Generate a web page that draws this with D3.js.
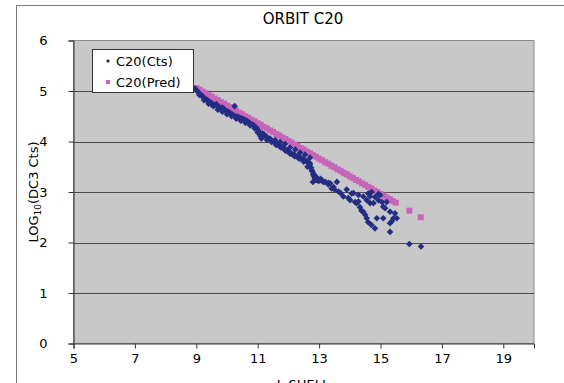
<!DOCTYPE html>
<html>
<head>
<meta charset="utf-8">
<script src="https://cdn.jsdelivr.net/npm/d3@7"></script>
<style>
  html, body { margin: 0; padding: 0; background: #ffffff; }
  svg { display: block; }
  text { font-family: "DejaVu Sans", sans-serif; fill: #000; }
</style>
</head>
<body>
<svg id="chart" width="564" height="383"></svg>
<script>
// Measured counts vs. L-shell, ORBIT C20
const ctsL = [
  8.96, 9.00, 9.05, 9.10, 9.15, 9.20, 9.25, 9.30, 9.35, 9.40, 9.45, 9.50, 9.55, 9.60, 9.65, 9.70,
  9.75, 9.80, 9.85, 9.90, 9.95, 10.00, 10.05, 10.10, 10.15, 10.20, 10.25, 10.30, 10.35, 10.40,
  10.45, 10.50, 10.55, 10.60, 10.65, 10.70, 10.75, 10.80, 10.85, 10.90, 10.95, 11.00, 11.05,
  11.08, 11.10, 11.15, 11.20, 11.25, 11.30, 11.35, 11.40, 11.45, 11.50, 11.55, 11.60, 11.65,
  11.70, 11.75, 11.80, 11.85, 11.90, 11.95, 12.00, 12.05, 12.10, 12.15, 12.20, 12.25, 12.30,
  12.35, 12.40, 12.45, 12.50, 12.55, 12.60, 12.65, 12.70, 12.74, 12.78, 12.82, 12.84, 12.86,
  12.88, 12.92, 12.97, 13.02, 13.10, 13.20, 13.30, 13.36,
  // lower edge of the band
  9.10, 9.25, 9.40, 9.55, 9.70, 9.85, 10.00, 10.15, 10.30, 10.45, 10.60, 10.75, 10.90, 11.00,
  11.12, 11.30, 11.45, 11.60, 11.75, 11.90, 12.05, 12.20, 12.35, 12.50,
  // upper dotted track
  11.19, 11.40, 11.57, 11.73, 11.89, 12.05, 12.22, 12.38, 12.54, 12.70,
  12.76, 12.81, 12.87, 12.98, 13.14, 13.30, 13.47, 13.58, 12.80, 12.90, 13.05, 12.62, 12.70,
  // scattered tail
  13.41, 13.50, 13.63, 13.70, 13.79, 13.90, 13.95, 14.06, 14.01, 14.12, 14.17, 14.22, 14.28,
  14.28, 14.33, 14.38, 14.44, 14.44, 14.50, 14.55, 14.55, 14.60, 14.60, 14.66, 14.66, 14.70,
  14.71, 14.77, 14.82, 14.82, 14.88, 14.93, 14.93, 14.99, 15.05, 15.09, 15.09, 15.15, 15.20,
  15.31, 15.31, 15.37, 15.42, 15.47, 15.53, 15.31, 15.94, 16.32
];
const ctsLog = [
  5.05, 5.02, 4.98, 4.95, 4.92, 4.90, 4.86, 4.84, 4.82, 4.80, 4.78, 4.76, 4.73, 4.72, 4.74, 4.70,
  4.68, 4.66, 4.67, 4.64, 4.62, 4.60, 4.59, 4.56, 4.55, 4.53, 4.70, 4.50, 4.49, 4.47,
  4.46, 4.45, 4.44, 4.42, 4.41, 4.38, 4.36, 4.34, 4.33, 4.30, 4.27, 4.24, 4.19,
  4.13, 4.10, 4.16, 4.14, 4.12, 4.08, 4.06, 4.04, 4.02, 4.00, 3.98, 3.96, 3.94,
  3.92, 3.90, 3.88, 3.86, 3.84, 3.82, 3.80, 3.78, 3.76, 3.74, 3.73, 3.71, 3.70,
  3.69, 3.67, 3.66, 3.64, 3.62, 3.61, 3.59, 3.54, 3.48, 3.41, 3.36, 3.31, 3.28,
  3.26, 3.24, 3.24, 3.23, 3.22, 3.20, 3.18, 3.17,
  4.92, 4.82, 4.75, 4.70, 4.63, 4.59, 4.54, 4.50, 4.45, 4.41, 4.37, 4.32, 4.26, 4.18,
  4.06, 4.03, 3.99, 3.93, 3.88, 3.82, 3.76, 3.71, 3.66, 3.60,
  4.12, 4.06, 4.03, 3.99, 3.95, 3.88, 3.84, 3.78, 3.74, 3.68,
  3.43, 3.34, 3.27, 3.22, 3.20, 3.15, 3.10, 3.20, 3.20, 3.30, 3.26, 3.50, 3.57,
  3.07, 3.05, 3.01, 2.98, 2.91, 3.05, 2.88, 2.97, 2.84, 2.98, 2.80, 2.78, 2.94,
  2.81, 2.70, 2.63, 2.91, 2.61, 2.55, 2.48, 2.84, 2.97, 2.40, 2.91, 2.78, 2.35,
  3.00, 2.78, 2.28, 2.90, 2.48, 2.84, 2.96, 2.94, 2.80, 2.71, 2.48, 2.68, 2.80,
  2.61, 2.38, 2.42, 2.48, 2.58, 2.48, 2.21, 1.97, 1.92
];

// Predicted counts vs. L-shell
const predL = [
  9.0, 9.1, 9.2, 9.3, 9.4, 9.5, 9.6, 9.7, 9.8, 9.9, 10.0, 10.1, 10.2, 10.3, 10.4, 10.5, 10.6,
  10.7, 10.8, 10.9, 11.0, 11.1, 11.2, 11.3, 11.4, 11.5, 11.6, 11.7, 11.8, 11.9, 12.0, 12.1,
  12.2, 12.3, 12.4, 12.5, 12.6, 12.7, 12.8, 12.9, 13.0, 13.1, 13.2, 13.3, 13.4, 13.5, 13.6,
  13.7, 13.8, 13.9, 14.0, 14.1, 14.2, 14.3, 14.4, 14.5, 14.6, 14.7, 14.8, 14.9, 15.0, 15.1,
  15.2, 15.3, 15.4, 15.5, 15.94, 16.31
];
const predLog = [
  5.06, 5.03, 4.99, 4.96, 4.92, 4.89, 4.85, 4.82, 4.78, 4.75, 4.71, 4.68, 4.64, 4.61, 4.57, 4.54, 4.50,
  4.47, 4.43, 4.40, 4.36, 4.33, 4.29, 4.26, 4.22, 4.19, 4.15, 4.12, 4.08, 4.05, 4.01, 3.98,
  3.94, 3.91, 3.87, 3.84, 3.80, 3.77, 3.73, 3.70, 3.66, 3.63, 3.59, 3.56, 3.52, 3.49, 3.45,
  3.42, 3.38, 3.35, 3.31, 3.28, 3.24, 3.21, 3.17, 3.14, 3.10, 3.07, 3.03, 3.00, 2.96, 2.93,
  2.89, 2.86, 2.82, 2.79, 2.63, 2.50
];

const xTicks = [5, 7, 9, 11, 13, 15, 17, 19];
const yTicks = [0, 1, 2, 3, 4, 5, 6];
const seriesNames = ["C20(Cts)", "C20(Pred)"];

const NAVY = "#232d84";
const PINK = "#c766b9";

const svg = d3.select("#chart");

// chart-area frame
svg.append("rect")
  .attr("x", 16.5).attr("y", 5.5)
  .attr("width", 600).attr("height", 420)
  .attr("fill", "#fff").attr("stroke", "#7a7a7a").attr("stroke-width", 1);

const plot = { left: 73.5, right: 534, top: 40.5, bottom: 343.5 };
const x = d3.scaleLinear().domain([5, 20]).range([plot.left, plot.right]);
const y = d3.scaleLinear().domain([0, 6]).range([plot.bottom, plot.top]);

// plot area
svg.append("rect")
  .attr("x", plot.left).attr("y", plot.top)
  .attr("width", plot.right - plot.left).attr("height", plot.bottom - plot.top)
  .attr("fill", "#c8c8c8").attr("stroke", "#8c8c8c").attr("stroke-width", 1);

// horizontal gridlines
svg.append("g")
  .selectAll("line")
  .data(yTicks.filter(v => v > 0 && v < 6))
  .join("line")
  .attr("x1", plot.left).attr("x2", plot.right)
  .attr("y1", d => Math.round(y(d)) + 0.5).attr("y2", d => Math.round(y(d)) + 0.5)
  .attr("stroke", "#4a4a4a").attr("stroke-width", 1);

// axes
const yAxis = svg.append("g")
  .attr("transform", `translate(${plot.left},0)`)
  .call(d3.axisLeft(y).tickValues(yTicks).tickFormat(d3.format("d")).tickSize(5).tickPadding(21));
const xAxis = svg.append("g")
  .attr("transform", `translate(0,${plot.bottom})`)
  .call(d3.axisBottom(x).tickValues(xTicks).tickFormat(d3.format("d")).tickSize(5).tickPadding(5));
[yAxis, xAxis].forEach(g => {
  g.selectAll("path.domain").attr("stroke", "#333").attr("stroke-width", 1);
  g.selectAll(".tick line").attr("stroke", "#333");
  g.selectAll(".tick text").attr("font-size", 13).attr("font-family", "DejaVu Sans").attr("fill", "#000");
});

// predicted series: squares
const sq = 6;
svg.append("g")
  .selectAll("rect")
  .data(predL.map((l, i) => [l, predLog[i]]))
  .join("rect")
  .attr("x", d => x(d[0]) - sq / 2).attr("y", d => y(d[1]) - sq / 2)
  .attr("width", sq).attr("height", sq)
  .attr("fill", PINK);

// measured series: diamonds
const diamond = d3.symbol().type(d3.symbolDiamond2).size(28);
svg.append("g")
  .selectAll("path")
  .data(ctsL.map((l, i) => [l, ctsLog[i]]))
  .join("path")
  .attr("transform", d => `translate(${x(d[0])},${y(d[1])})`)
  .attr("d", diamond)
  .attr("fill", NAVY);

// title
svg.append("text")
  .attr("x", 303).attr("y", 23.5)
  .attr("text-anchor", "middle")
  .attr("font-size", 15)
  .text("ORBIT C20");

// y-axis title
const yt = svg.append("text")
  .attr("transform", "translate(38,192) rotate(-90)")
  .attr("text-anchor", "middle")
  .attr("font-size", 13);
yt.append("tspan").text("LOG");
yt.append("tspan").attr("font-size", 9).attr("dy", 3).text("10");
yt.append("tspan").attr("dy", -3).text("(DC3 Cts)");

// x-axis title
svg.append("text")
  .attr("x", 303).attr("y", 389)
  .attr("text-anchor", "middle")
  .attr("font-size", 13)
  .text("L-SHELL");

// legend
const lg = svg.append("g");
lg.append("rect")
  .attr("x", 92.5).attr("y", 49.5).attr("width", 101).attr("height", 43)
  .attr("fill", "#fff").attr("stroke", "#333").attr("stroke-width", 1);
lg.append("path")
  .attr("transform", "translate(108,61)")
  .attr("d", d3.symbol().type(d3.symbolDiamond2).size(10))
  .attr("fill", NAVY);
lg.append("rect")
  .attr("x", 106).attr("y", 80).attr("width", 4).attr("height", 4)
  .attr("fill", PINK);
lg.selectAll("text")
  .data(seriesNames)
  .join("text")
  .attr("x", 116).attr("y", (d, i) => 66 + i * 21)
  .attr("font-size", 13)
  .text(d => d);
</script>
</body>
</html>
